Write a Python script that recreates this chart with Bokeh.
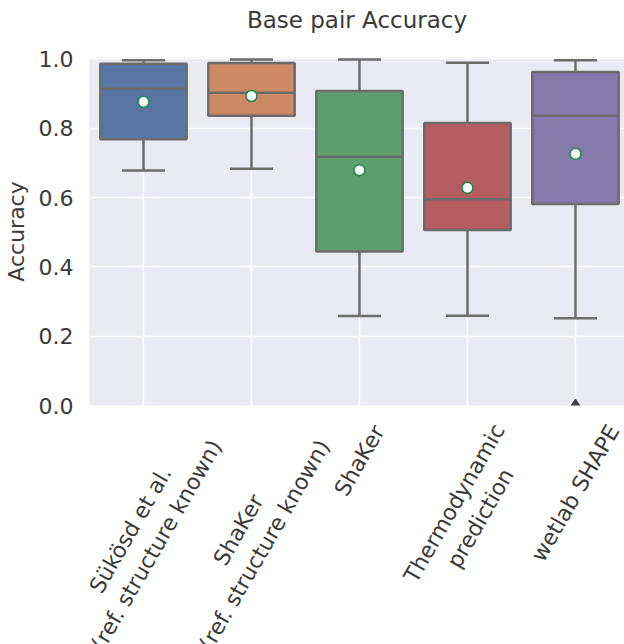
import math
from bokeh.plotting import figure
from bokeh.layouts import column
from bokeh.models import Range1d, FixedTicker, PrintfTickFormatter
from bokeh.core.properties import value
from bokeh.embed import file_html
from bokeh.resources import INLINE

# ---- data ----
title_text = "Base pair Accuracy"
categories = [
    "Sükösd et al.\n(ref. structure known)",
    "ShaKer\n(ref. structure known)",
    "ShaKer",
    "Thermodynamic\nprediction",
    "wetlab SHAPE",
]
whisker_low = [0.678, 0.683, 0.258, 0.259, 0.252]
q1 = [0.768, 0.836, 0.444, 0.506, 0.581]
median = [0.914, 0.902, 0.718, 0.595, 0.836]
q3 = [0.986, 0.988, 0.907, 0.815, 0.962]
whisker_high = [0.996, 0.998, 0.998, 0.989, 0.996]
means = [0.876, 0.893, 0.679, 0.628, 0.726]
outlier_index = [4]
outlier_value = [0.0]
box_colors = ["#5975a4", "#cc8963", "#5f9e6e", "#b55d60", "#857aab"]
y_ticks = [0.0, 0.2, 0.4, 0.6, 0.8, 1.0]

# ---- styling ----
FONT = "DejaVu Sans"
TEXT = "#3a3a3a"
GRAY = "#6c6c6c"
BOX_W = 0.8
CAP_W = 0.4
LW = 2.5
FS = 22
W = 624
LEFT, TOP, FRAME_H, GAP = 89, 57, 348, 14
TITLE_H = 36
TITLE_MID = 19
LABEL_H = 644 - TOP - FRAME_H - GAP
Y0, Y1 = 0.0, 1.004
X0, X1 = -0.5, 4.454
LABEL_ANGLE = math.radians(60)
LABEL_PAD = 14.5
LINE_H = 1.2

# DejaVu Sans advance widths (em) used to centre rotated labels like matplotlib
CW = {" ": .318, "(": .390, ")": .390, ".": .318, "A": .684, "E": .632, "H": .752,
      "K": .656, "P": .603, "S": .635, "T": .611, "a": .613, "b": .635, "c": .550,
      "d": .635, "e": .615, "f": .352, "h": .634, "i": .278, "k": .579, "l": .278,
      "m": .974, "n": .634, "o": .612, "p": .635, "r": .411, "s": .521, "t": .392,
      "u": .634, "w": .818, "y": .592, "ü": .634, "ö": .612}

xs = list(range(len(categories)))
x_range = Range1d(X0, X1)


def blank(height):
    f = figure(
        width=W, height=height,
        x_range=x_range, y_range=Range1d(-height, 0),
        output_backend="svg", toolbar_location=None,
        min_border_left=LEFT, min_border_right=0, min_border_top=0, min_border_bottom=0,
    )
    f.axis.visible = False
    f.grid.visible = False
    f.outline_line_color = None
    f.background_fill_color = "white"
    f.border_fill_color = "white"
    return f


# ---- title strip ----
t = blank(TITLE_H)
t.text(x=[(X0 + X1) / 2], y=[-TITLE_MID], text=[title_text],
       text_align="center", text_baseline="middle",
       text_font=value(FONT), text_font_size="23px", text_color=TEXT)

# ---- main box plot ----
p = figure(
    width=W, height=TOP - TITLE_H + FRAME_H + GAP,
    x_range=x_range, y_range=Range1d(Y0, Y1),
    output_backend="svg", toolbar_location=None,
    min_border_left=LEFT, min_border_right=0, min_border_top=TOP - TITLE_H,
    min_border_bottom=GAP,
)
p.background_fill_color = "#eaeaf2"
p.border_fill_color = "white"
p.outline_line_color = None

for g in (p.xgrid, p.ygrid):
    g.grid_line_color = "white"
    g.grid_line_width = 1.5
p.xgrid.ticker = FixedTicker(ticks=xs)
p.ygrid.ticker = FixedTicker(ticks=y_ticks)
p.xaxis.visible = False

ax = p.yaxis
ax.axis_line_color = None
ax.major_tick_line_color = None
ax.minor_tick_line_color = None
ax.major_tick_out = 0
ax.major_tick_in = 0
ax.major_label_text_font = FONT
ax.major_label_text_font_size = f"{FS}px"
ax.major_label_text_color = TEXT
ax.ticker = FixedTicker(ticks=y_ticks)
ax.formatter = PrintfTickFormatter(format="%.1f")
ax.major_label_standoff = 16
ax.axis_label = "Accuracy"
ax.axis_label_text_font = FONT
ax.axis_label_text_font_size = f"{FS}px"
ax.axis_label_text_font_style = "normal"
ax.axis_label_text_color = TEXT
ax.axis_label_standoff = 7

# whiskers
p.segment(x0=xs, y0=q3, x1=xs, y1=whisker_high, line_color=GRAY, line_width=LW)
p.segment(x0=xs, y0=q1, x1=xs, y1=whisker_low, line_color=GRAY, line_width=LW)
# caps
p.segment(x0=[x - CAP_W / 2 for x in xs], y0=whisker_high,
          x1=[x + CAP_W / 2 for x in xs], y1=whisker_high, line_color=GRAY, line_width=LW)
p.segment(x0=[x - CAP_W / 2 for x in xs], y0=whisker_low,
          x1=[x + CAP_W / 2 for x in xs], y1=whisker_low, line_color=GRAY, line_width=LW)
# boxes
p.vbar(x=xs, width=BOX_W, top=q3, bottom=q1, fill_color=box_colors,
       line_color=GRAY, line_width=LW)
# medians
p.segment(x0=[x - BOX_W / 2 for x in xs], y0=median,
          x1=[x + BOX_W / 2 for x in xs], y1=median, line_color=GRAY, line_width=LW)
# outliers
p.scatter(x=outlier_index, y=outlier_value, marker="diamond", size=13,
          fill_color="#404040", line_color="#404040")
# means
p.scatter(x=xs, y=means, marker="circle", size=11, fill_color="white",
          line_color="#148a45", line_width=1.5)

# ---- rotated category labels (matplotlib-style centring), shared x scale ----
q = blank(LABEL_H)
sa, ca = math.sin(LABEL_ANGLE), math.cos(LABEL_ANGLE)
label_y = []
for c in categories:
    lines = c.split("\n")
    w = max(sum(CW.get(ch, 0.6) for ch in ln) for ln in lines) * FS
    h = len(lines) * LINE_H * FS
    label_y.append(-(LABEL_PAD - GAP + (w * sa + h * ca) / 2))
q.text(x=xs, y=label_y, text=categories, angle=LABEL_ANGLE,
       text_align="center", text_baseline="middle",
       text_font=value(FONT), text_font_size=f"{FS}px", text_color=TEXT,
       text_line_height=LINE_H)

open("out.html", "w").write(file_html(column(t, p, q, spacing=0), INLINE))
